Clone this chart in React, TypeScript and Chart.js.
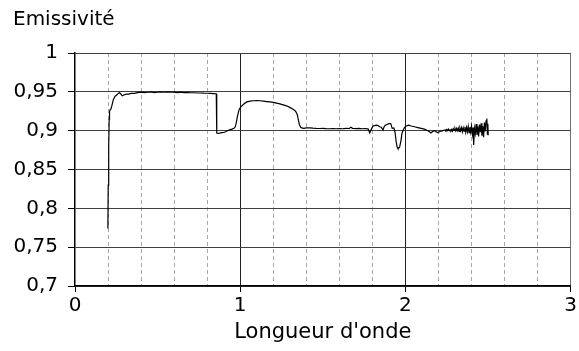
import React, { useEffect, useRef } from "react";
import { Chart, registerables } from "chart.js";

Chart.register(...registerables);

const wavelength = [
  0.199, 0.201, 0.204, 0.207, 0.209, 0.213, 0.218, 0.224, 0.232, 0.242,
  0.252, 0.262, 0.27, 0.278, 0.286, 0.296, 0.31, 0.325, 0.34, 0.36,
  0.38, 0.4, 0.42, 0.44, 0.46, 0.48, 0.5, 0.52, 0.54, 0.56,
  0.58, 0.6, 0.62, 0.64, 0.66, 0.68, 0.7, 0.72, 0.74, 0.76,
  0.78, 0.8, 0.82, 0.84, 0.855, 0.858, 0.862, 0.875, 0.89, 0.905,
  0.92, 0.935, 0.95, 0.962, 0.97, 0.976, 0.982, 0.988, 0.995, 1.005,
  1.02, 1.04, 1.06, 1.08, 1.1, 1.12, 1.14, 1.16, 1.18, 1.2,
  1.22, 1.24, 1.26, 1.28, 1.3, 1.32, 1.335, 1.345, 1.352, 1.358,
  1.365, 1.372, 1.385, 1.4, 1.42, 1.44, 1.46, 1.48, 1.5, 1.52,
  1.54, 1.56, 1.58, 1.6, 1.62, 1.64, 1.66, 1.67, 1.68, 1.7,
  1.72, 1.74, 1.76, 1.775, 1.784, 1.794, 1.804, 1.814, 1.824, 1.834,
  1.844, 1.854, 1.864, 1.871, 1.878, 1.888, 1.899, 1.911, 1.92, 1.93,
  1.937, 1.944, 1.95, 1.955, 1.96, 1.965, 1.972, 1.979, 1.987, 1.995,
  2.005, 2.019, 2.035, 2.055, 2.075, 2.095, 2.115, 2.136, 2.145, 2.154,
  2.165, 2.176, 2.186, 2.196, 2.206, 2.216, 2.226, 2.234, 2.242, 2.245,
  2.25, 2.255, 2.26, 2.265, 2.27, 2.275, 2.28, 2.285, 2.29, 2.295,
  2.3, 2.305, 2.31, 2.315, 2.32, 2.325, 2.33, 2.335, 2.34, 2.345,
  2.35, 2.355, 2.36, 2.365, 2.37, 2.375, 2.38, 2.385, 2.39, 2.395,
  2.4, 2.405, 2.41, 2.413, 2.418, 2.423, 2.428, 2.433, 2.438, 2.443,
  2.448, 2.453, 2.458, 2.463, 2.468, 2.473, 2.478, 2.483, 2.488, 2.493,
  2.496, 2.499, 2.501,
];

const emissivity = [
  0.774, 0.83, 0.88, 0.915, 0.925, 0.927, 0.928, 0.933, 0.94, 0.944,
  0.946, 0.948, 0.949, 0.947, 0.945, 0.946, 0.947, 0.947, 0.948, 0.948,
  0.949, 0.9495, 0.949, 0.9495, 0.95, 0.949, 0.9495, 0.95, 0.9495, 0.95,
  0.9495, 0.9495, 0.949, 0.9495, 0.949, 0.949, 0.9488, 0.9488, 0.9485, 0.9485,
  0.9483, 0.9482, 0.948, 0.9478, 0.9475, 0.897, 0.8965, 0.8968, 0.8975, 0.898,
  0.8995, 0.901, 0.902, 0.903, 0.905, 0.91, 0.917, 0.923, 0.928, 0.931,
  0.934, 0.937, 0.938, 0.9385, 0.9387, 0.9385, 0.938, 0.9375, 0.937, 0.9365,
  0.9355, 0.9345, 0.9333, 0.932, 0.93, 0.9275, 0.925, 0.921, 0.914, 0.908,
  0.9045, 0.9035, 0.903, 0.9035, 0.9037, 0.9033, 0.903, 0.9028, 0.903, 0.9027,
  0.9025, 0.9028, 0.9025, 0.9027, 0.9025, 0.903, 0.9028, 0.9045, 0.903, 0.9027,
  0.903, 0.9025, 0.9028, 0.902, 0.897, 0.902, 0.906, 0.9065, 0.907, 0.9065,
  0.905, 0.9045, 0.9008, 0.905, 0.907, 0.908, 0.909, 0.909, 0.903, 0.9035,
  0.898, 0.8857, 0.879, 0.877, 0.8775, 0.879, 0.886, 0.8965, 0.901, 0.9042,
  0.906, 0.9072, 0.906, 0.905, 0.904, 0.903, 0.902, 0.9, 0.8985, 0.897,
  0.899, 0.9, 0.8985, 0.8973, 0.8985, 0.8995, 0.9, 0.9005, 0.901, 0.9,
  0.9015, 0.9, 0.902, 0.9, 0.9012, 0.8998, 0.9018, 0.8995, 0.9025, 0.9005,
  0.9028, 0.8998, 0.903, 0.9, 0.9032, 0.899, 0.9035, 0.9, 0.904, 0.8985,
  0.9035, 0.8995, 0.905, 0.898, 0.904, 0.8985, 0.9055, 0.8975, 0.9045, 0.898,
  0.906, 0.8955, 0.904, 0.8815, 0.903, 0.8965, 0.9085, 0.8945, 0.9055, 0.8925,
  0.908, 0.898, 0.9095, 0.8935, 0.906, 0.8915, 0.9105, 0.899, 0.9125, 0.9158,
  0.8955, 0.909, 0.894,
];

const yTickValues = [0.7, 0.75, 0.8, 0.85, 0.9, 0.95, 1];
const xMajorTicks = [0, 1, 2, 3];

const FONT = "'DejaVu Sans', Verdana, sans-serif";

const isInt = (v: number) => Math.abs(v - Math.round(v)) < 1e-6;
const fmtComma = (v: number) => String(Number(v.toFixed(2))).replace(".", ",");

export default function App() {
  const ref = useRef<HTMLCanvasElement | null>(null);

  useEffect(() => {
    if (!ref.current) return;
    const points = wavelength.map((x, i) => ({ x, y: emissivity[i] }));
    const chart = new Chart(ref.current, {
      type: "line",
      data: {
        datasets: [
          {
            data: points,
            borderColor: "#000",
            borderWidth: 1.2,
            pointRadius: 0,
            tension: 0,
            fill: false,
          },
        ],
      },
      options: {
        animation: false,
        responsive: false,
        maintainAspectRatio: false,
        layout: { padding: { left: 13, right: -3, top: 0, bottom: 0 } },
        plugins: {
          legend: { display: false },
          tooltip: { enabled: false },
          title: {
            display: true,
            text: "Emissivité",
            align: "start",
            color: "#000",
            font: { family: FONT, size: 20, weight: "normal" },
            padding: { top: 8, bottom: 21 },
          },
        },
        scales: {
          x2: {
            type: "linear",
            position: "top",
            min: 0,
            max: 3,
            ticks: { display: false, stepSize: 0.2 },
            grid: {
              drawTicks: false,
              color: (ctx: any) => (isInt(ctx.tick.value) ? "rgba(0,0,0,0)" : "#a8a8a8"),
              lineWidth: 1,
            },
            border: { display: false, dash: [4, 3] },
          },
          x: {
            type: "linear",
            position: "bottom",
            min: 0,
            max: 3,
            afterBuildTicks: (scale: any) => {
              scale.ticks = xMajorTicks.map((v) => ({ value: v }));
            },
            afterFit: (scale: any) => {
              scale.height = 65;
            },
            ticks: {
              color: "#000",
              font: { family: FONT, size: 20 },
              padding: 2,
              maxRotation: 0,
              callback: (v: any) => String(v),
            },
            grid: {
              color: (ctx: any) =>
                ctx.tick && ctx.tick.value === 3 ? "#707070" : ctx.tick && ctx.tick.value === 0 ? "rgba(0,0,0,0)" : "#202020",
              tickColor: "#000",
              tickLength: 6,
              lineWidth: 1,
            },
            border: { color: "#000", width: 1.5 },
            title: {
              display: true,
              text: "Longueur d'onde",
              color: "#000",
              font: { family: FONT, size: 21 },
              padding: { top: 0, bottom: 6 },
            },
          },
          y: {
            type: "linear",
            min: 0.7,
            max: 1,
            afterBuildTicks: (scale: any) => {
              scale.ticks = yTickValues.map((v) => ({ value: v }));
            },
            afterFit: (scale: any) => {
              scale.width = 62;
            },
            ticks: {
              color: "#000",
              font: { family: FONT, size: 20 },
              padding: 10,
              callback: (v: any) => fmtComma(Number(v)),
            },
            grid: {
              color: "#404040",
              tickColor: "#000",
              tickLength: 7,
              lineWidth: 1,
            },
            border: { color: "#000", width: 1.5 },
          },
        },
      },
    });
    return () => chart.destroy();
  }, []);

  return (
    <div style={{ position: "fixed", left: 0, top: 0, width: 579, height: 351, background: "#fff" }}>
      <canvas ref={ref} width={579} height={351} style={{ width: 579, height: 351, display: "block" }} />
    </div>
  );
}
